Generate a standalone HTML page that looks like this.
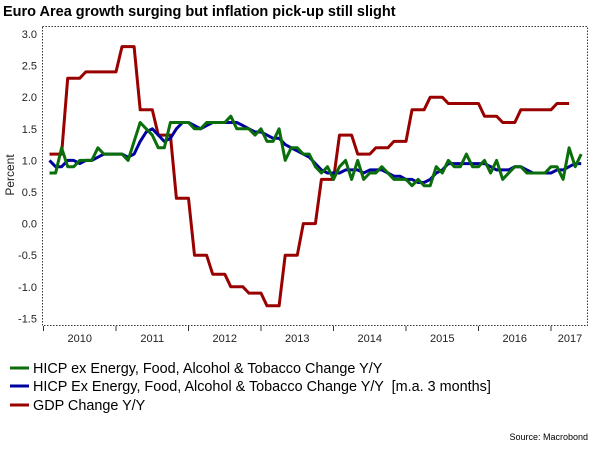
<!DOCTYPE html>
<html><head><meta charset="utf-8"><style>
body{margin:0;background:#fff;width:600px;height:450px;overflow:hidden;font-family:"Liberation Sans",Arial,sans-serif}
svg{display:block}
text{font-family:"Liberation Sans",Arial,sans-serif}
</style></head><body>
<svg id="chart" width="600" height="450">
<text x="3" y="16" font-size="14.5" font-weight="bold" fill="#000">Euro Area growth surging but inflation pick-up still slight</text>
<rect x="42.5" y="26.5" width="545" height="299" fill="none" stroke="#333" stroke-dasharray="1.5,1.5"/>
<g id="yaxis"></g>
<g id="xaxis"></g>
<text transform="translate(14,175) rotate(-90)" text-anchor="middle" font-size="12" fill="#222">Percent</text>
<g id="series"></g>
<g>
<g><line x1="10" y1="368" x2="29" y2="368" stroke="#0a6e0a" stroke-width="3"/><text x="33" y="373" font-size="14.4" fill="#000">HICP ex Energy, Food, Alcohol &amp; Tobacco Change Y/Y</text></g>
<g><line x1="10" y1="386" x2="29" y2="386" stroke="#0000a0" stroke-width="3"/><text x="33" y="391" font-size="14.4" fill="#000" xml:space="preserve" style="white-space:pre">HICP Ex Energy, Food, Alcohol &amp; Tobacco Change Y/Y  [m.a. 3 months]</text></g>
<g><line x1="10" y1="405" x2="29" y2="405" stroke="#990000" stroke-width="3"/><text x="33" y="410" font-size="14.4" fill="#000">GDP Change Y/Y</text></g>
</g>
<text x="588" y="440" text-anchor="end" font-size="9" fill="#000">Source: Macrobond</text>
</svg>
<script>
const years = ["2010","2011","2012","2013","2014","2015","2016","2017"];
const yTicks = [3.0,2.5,2.0,1.5,1.0,0.5,0.0,-0.5,-1.0,-1.5];
const hicp = [0.8,0.8,1.2,0.9,0.9,1.0,1.0,1.0,1.2,1.1,1.1,1.1,
1.1,1.0,1.3,1.6,1.5,1.4,1.2,1.2,1.6,1.6,1.6,1.6,
1.5,1.5,1.6,1.6,1.6,1.6,1.7,1.5,1.5,1.5,1.4,1.5,
1.3,1.3,1.5,1.0,1.2,1.2,1.1,1.1,0.9,0.8,0.9,0.7,
0.9,1.0,0.7,1.0,0.7,0.8,0.8,0.9,0.8,0.7,0.7,0.7,
0.6,0.7,0.6,0.6,0.9,0.8,1.0,0.9,0.9,1.1,0.9,0.9,
1.0,0.8,1.0,0.7,0.8,0.9,0.9,0.8,0.8,0.8,0.8,0.9,
0.9,0.7,1.2,0.9,1.1];
const hicpMa = [1.0,0.9,0.9,1.0,1.0,0.95,1.0,1.0,1.05,1.1,1.1,1.1,
1.1,1.05,1.1,1.3,1.45,1.5,1.4,1.3,1.35,1.5,1.6,1.6,
1.55,1.5,1.55,1.6,1.6,1.6,1.6,1.6,1.55,1.5,1.45,1.45,
1.4,1.35,1.35,1.25,1.2,1.15,1.1,1.05,0.95,0.85,0.8,0.8,
0.8,0.85,0.85,0.85,0.8,0.85,0.85,0.85,0.8,0.75,0.75,0.7,
0.7,0.65,0.65,0.7,0.8,0.85,0.95,0.95,0.95,0.95,0.95,0.95,
0.95,0.9,0.85,0.85,0.85,0.9,0.9,0.85,0.8,0.8,0.8,0.8,
0.85,0.85,0.9,0.95,0.95];
const gdpQuarterly = [1.1,2.3,2.4,2.4, 2.8,1.8,1.4,0.4, -0.5,-0.8,-1.0,-1.1, -1.3,-0.5,0.0,0.7, 1.4,1.1,1.2,1.3, 1.8,2.0,1.9,1.9, 1.7,1.6,1.8,1.8, 1.9];

const NS="http://www.w3.org/2000/svg";
const x0=43.5, yearW=72.5, monthW=yearW/12;
function xMonth(m){return x0+(m+1)*monthW;}
function yVal(v){return 223.6-v*63.2;}
function mk(tag,attrs,parent){const e=document.createElementNS(NS,tag);for(const k in attrs)e.setAttribute(k,attrs[k]);parent.appendChild(e);return e;}

const ya=document.getElementById('yaxis');
yTicks.forEach(v=>{
  const t=mk('text',{x:37,y:yVal(v)+4,'text-anchor':'end','font-size':11,fill:'#222'},ya);
  t.textContent=v.toFixed(1);
  
  
});
const xa=document.getElementById('xaxis');
for(let i=0;i<=years.length;i++){
  const xx=x0+i*yearW;
  if(xx<=588){const l=mk('line',{x1:xx,y1:326,x2:xx,y2:331,stroke:'#333','stroke-width':1},xa);
  
  }
}
years.forEach((y,i)=>{
  let cx=x0+(i+0.5)*yearW;
  if(i===years.length-1) cx=Math.min(cx,570);
  const t=mk('text',{x:cx,y:342,'text-anchor':'middle','font-size':11,fill:'#222'},xa);
  t.textContent=y;
  
  
});

const sg=document.getElementById('series');
function drawLine(pts,color,name){
  const d=pts.map((p,i)=>(i?'L':'M')+p[0].toFixed(1)+','+p[1].toFixed(1)).join('');
  const p=mk('path',{d:d,fill:'none',stroke:color,'stroke-width':3,'stroke-linejoin':'round'},sg);
  
  
}
const gdpPts=[];
gdpQuarterly.forEach((v,q)=>{for(let k=0;k<3;k++){const m=q*3+k;if(m<89||k===0)gdpPts.push([xMonth(m),yVal(v)]);}});
drawLine(gdpPts,'#990000','gdp-line');
drawLine(hicpMa.map((v,m)=>[xMonth(m),yVal(v)]),'#0000a0','hicp-ma-line');
drawLine(hicp.map((v,m)=>[xMonth(m),yVal(v)]),'#0a6e0a','hicp-line');
</script>
</body></html>
